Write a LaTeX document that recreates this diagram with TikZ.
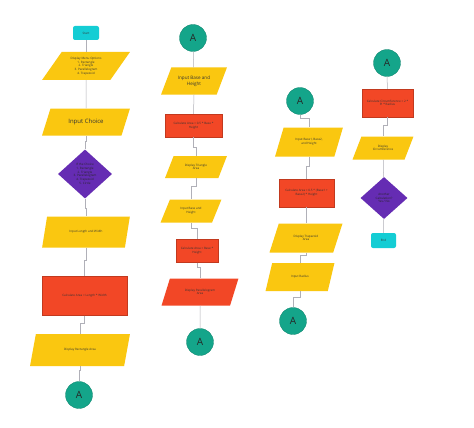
\documentclass[tikz,border=0pt]{standalone}
\usepackage{fontspec}
\setmainfont{Open Sans}
\usetikzlibrary{shapes.geometric,calc}
\definecolor{myyellow}{HTML}{FAC710}
\definecolor{myred}{HTML}{F24726}
\definecolor{mypurple}{HTML}{652CB3}
\definecolor{myteal}{HTML}{14A58A}
\definecolor{mycyan}{HTML}{14CDD4}
\definecolor{myline}{HTML}{B0B0B8}
\tikzset{
  tiny/.style={font=\fontsize{3}{3.7}\selectfont, text=black!80, align=center},
  para/.style={trapezium, trapezium left angle=55, trapezium right angle=125, trapezium stretches=true, fill=myyellow, draw=none, inner sep=0pt, tiny},
  procbox/.style={rectangle, fill=myred, draw=myred!80!black, line width=0.2pt, inner sep=0pt, tiny},
  decbox/.style={diamond, fill=mypurple, draw=none, inner sep=0pt, tiny, text=black!85},
  conn/.style={circle, fill=myteal, draw=myteal!80!black, line width=0.3pt, minimum size=27pt, inner sep=0pt, font=\fontsize{10}{12}\selectfont, text=black!85},
  term/.style={rectangle, rounded corners=2pt, fill=mycyan, draw=none, inner sep=0pt, tiny},
  link/.style={draw=myline, line width=0.5pt}
}
\begin{document}
\begin{tikzpicture}[x=1pt,y=-1pt]
\fill[white] (0,0) rectangle (474,428);
\useasboundingbox (0,0) rectangle (474,428);
% Column 1
\node[term, minimum width=26pt, minimum height=14pt] (start) at (86,33) {Start};
\node[para, minimum width=88pt, minimum height=28pt] (menu) at (86,66) {Display Menu Options\\1. Rectangle\\2. Triangle\\3. Parallelogram\\4. Trapezoid};
\node[para, minimum width=88pt, minimum height=27pt, font=\fontsize{6}{7}\selectfont] (choice) at (86,122) {Input Choice};
\node[decbox, minimum width=54pt, minimum height=49pt] (dec1) at (85,174) {If the Choice\\1. Rectangle\\2. Triangle\\3. Parallelogram\\4. Trapezoid\\5. Circle};
\node[para, minimum width=88pt, minimum height=31pt] (inlw) at (86,232) {Input Length and Width};
\node[procbox, minimum width=85pt, minimum height=39pt] (calc1) at (84.5,296) {Calculate Area = Length * Width};
\node[para, minimum width=100pt, minimum height=32pt] (disp1) at (80,350) {Display Rectangle Area};
\node[conn] (a1) at (79,395) {A};
% Column 2
\node[conn] (a2) at (193,38) {A};
\node[para, minimum width=66pt, minimum height=27pt, font=\fontsize{4.6}{5.8}\selectfont] (inbh1) at (194,81) {Input Base and\\Height};
\node[procbox, minimum width=57pt, minimum height=23pt] (calc2) at (193.5,125.5) {Calculate Area = 0.5 * Base *\\Height};
\node[para, minimum width=62pt, minimum height=22pt] (disp2) at (196,167) {Display Triangle\\Area};
\node[para, minimum width=61pt, minimum height=23pt] (inbh2) at (191,211) {Input Base and\\Height};
\node[procbox, minimum width=42pt, minimum height=23pt] (calc3) at (197,251) {Calculate Area = Base *\\Height};
\node[para, fill=myred, minimum width=77pt, minimum height=27pt] (disp3) at (200,292) {Display Parallelogram\\Area};
\node[conn] (a3) at (200,342) {A};
% Column 3
\node[conn] (a4) at (300,101) {A};
\node[para, minimum width=68pt, minimum height=29pt] (inb12) at (309,142) {Input Base1, Base2,\\and Height};
\node[procbox, minimum width=55pt, minimum height=28pt] (calc4) at (306.5,193) {Calculate Area = 0.5 * (Base1 +\\Base2) * Height};
\node[para, minimum width=73pt, minimum height=29pt] (disp4) at (306,238) {Display Trapezoid\\Area};
\node[para, minimum width=69pt, minimum height=28pt] (inr) at (300,277) {Input Radius};
\node[conn] (a5) at (293,321) {A};
% Column 4
\node[conn] (a6) at (387,63) {A};
\node[procbox, minimum width=51pt, minimum height=28pt] (calc5) at (387.5,103) {Calculate Circumference = 2 *\\Pi * Radius};
\node[para, minimum width=61pt, minimum height=23pt] (disp5) at (383,148) {Display\\Circumference};
\node[decbox, minimum width=47pt, minimum height=42pt] (dec2) at (384,198) {Another\\Calculation?\\Yes / No};
\node[term, minimum width=25pt, minimum height=15pt] (end) at (383.5,240.5) {End};
% Connectors
\draw[link] (start) -- (menu);
\draw[link] (menu) -- (choice);
\draw[link] (choice.south) -- ++(0,6) -| (dec1.north);
\draw[link] (dec1.south) -- ++(0,10) -| (inlw.north);
\draw[link] (inlw.south) -- ++(0,13) -| (calc1.north);
\draw[link] (calc1.south) -- ++(0,8) -| (disp1.north);
\draw[link] (disp1.south) -- ++(0,4) -| (a1.north);
\draw[link] (a2) -- (inbh1);
\draw[link] (inbh1.south) -- (calc2.north);
\draw[link] (calc2.south) -- ++(0,10) -| (disp2.north);
\draw[link] (disp2.south) -- ++(0,8) -| (inbh2.north);
\draw[link] (inbh2.south) -- ++(0,6) -| (calc3.north);
\draw[link] (calc3.south) -- ++(0,5) -| (disp3.north);
\draw[link] (disp3.south) -- (a3.north);
\draw[link] (a4.south) -- ++(0,4) -| (inb12.north);
\draw[link] (inb12.south) -- ++(0,10) -| (calc4.north);
\draw[link] (calc4.south) -- ++(0,8) -| (disp4.north);
\draw[link] (disp4.south) -- ++(0,3) -| (inr.north);
\draw[link] (inr.south) -- ++(0,6) -| (a5.north);
\draw[link] (a6) -- (calc5);
\draw[link] (calc5.south) -- ++(0,8) -| (disp5.north);
\draw[link] (disp5) -- (dec2);
\draw[link] (dec2) -- (end);
\end{tikzpicture}
\end{document}
